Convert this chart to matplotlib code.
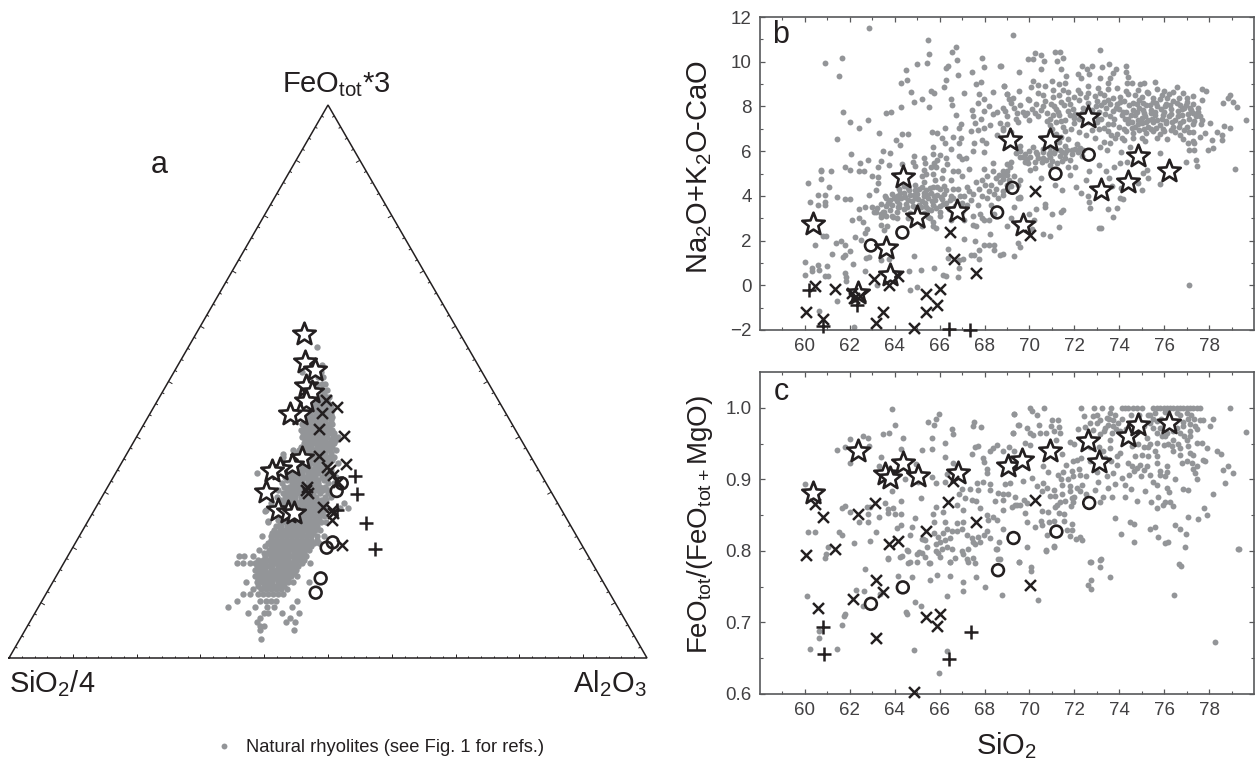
import numpy as np
import matplotlib
matplotlib.use("Agg")
import matplotlib.pyplot as plt
from matplotlib.collections import LineCollection
from matplotlib.path import Path

plt.rcParams['font.family'] = ['Liberation Sans', 'DejaVu Sans']
plt.rcParams['mathtext.fontset'] = 'custom'
plt.rcParams['mathtext.rm'] = 'Liberation Sans'
plt.rcParams['mathtext.default'] = 'rm'

INK = '#231f20'
GREY = '#939598'
SPINE = '#58595b'

# ---------- panel a (position along the base %, FeO apex %) ----------
a_star = [(46.19,58.59),(46.45,53.47),(47.97,52.08),(46.56,49.19),(47.44,48.16),(46.50,46.53),(45.62,44.12),(44.05,44.12),
          (45.88,36.11),(44.31,34.90),(42.48,34.12),(41.17,33.87),(40.23,29.96),(42.22,26.76),(43.79,26.34),(44.73,26.28)]
a_cross = [(49.69,46.65),(51.36,45.45),(49.01,44.24),(48.65,41.41),(52.51,40.14),(48.59,36.59),(52.77,35.02),(49.79,34.60),
           (50.32,34.0),(50.84,33.09),(51.62,31.89),(46.66,30.98),(46.56,30.38),(46.92,29.78),(49.27,27.37),(50.58,26.76),
           (50.84,26.16),(50.58,24.95),(52.15,20.43)]
a_plus = [(54.24,32.91),(54.60,29.66),(55.96,24.35),(57.37,19.65),(51.36,26.76)]
a_circle = [(52.15,31.58),(51.36,30.20),(50.74,20.91),(49.79,19.95),(48.85,14.40),(48.07,11.81)]
a_nat_rows = {
 56.3:[48.2], 53:[49.0,47.6], 51.8:[45.9,48.2,48.9], 50.8:[48.4,49.2], 49.6:[48.2,49.0,49.6], 48.4:[48.4,49.2,49.8],
 47.2:[48.1,48.9,49.7,50.1], 46:[48.0,48.8,49.5,50.2], 44.8:[47.7,48.5,49.2,50.0,50.6], 43.6:[46.8,47.6,48.4,49.2,50,50.6],
 42.4:[46.0,46.8,47.6,48.4,49.2,50,50.7], 41.2:[45.8,46.6,47.4,48.2,49,49.8,50.6], 40:[45.9,46.7,47.5,48.3,49.1,49.9,50.8,51.6],
 38.8:[46.2,47.0,47.8,48.6,49.4,50.2,51.0], 37.6:[44.5,45.5,46.3,47.1,47.9,48.7,49.5,50.3,51.2],
 36.4:[43.0,44.6,45.4,46.2,47,47.8,48.6,49.4,50.2,51], 35.2:[44.5,45.3,46.1,46.9,47.7,48.5,49.3,50.1,51.5],
 34:[43.5,44.3,45.1,45.9,46.7,47.5,48.3,49.1,50.5], 33.4:[38.8,43.6,44.4,45.2,46,46.8,47.6,48.4,49.4,50.2], 32.8:[43.2,44,44.8,45.6,46.4,47.2,48,49,49.8,51.3],
 31.6:[42.8,44.4,45.2,46,46.8,47.6,48.4,50,51.0], 30.4:[42.2,43.5,44.3,45.1,45.9,46.7,47.5,48.3,49.2,50],
 29.2:[42.0,43.3,44.1,44.9,45.7,46.5,47.3,48.1,49.5,50.4], 28:[41.0,42.9,43.7,44.5,45.3,46.1,46.9,47.7,48.5,49.3,52.5],
 27.2:[51.9,53.2], 26.8:[40.3,42.4,43.2,44,44.8,45.6,46.4,47.2,48,48.8,49.6], 25.6:[42.2,43,43.8,44.6,45.4,46.2,47,47.8,48.6,49.4],
 24.6:[40.6,42.5,43.3,44.1,44.9,45.7,46.5,47.3,48.1,48.9,49.7], 23.2:[41.6,42.4,43.2,44,44.8,45.6,46.4,47.2,48,48.8],
 22:[39.6,41.0,41.8,42.6,43.4,44.2,45,45.8,46.6,47.4,48.2,49.3], 20.8:[40.6,41.4,42.2,43,43.8,44.6,45.4,46.2,47,47.8,48.6],
 19.6:[39.2,40.7,41.5,42.3,43.1,43.9,44.7,45.5,46.3,47.1], 18.4:[36,36.8,38.3,40.2,41,41.8,42.6,43.4,44.2,45,45.8,46.6],
 17.2:[35.8,36.6,37.8,38.6,39.4,40.2,41,41.8,42.6,43.4,44.2,45,46,47.2], 16:[38.6,39.4,40.2,41,41.8,42.6,43.4,44.2,45],
 14.8:[38.6,39.4,40.2,41,41.8,42.6,43.4,44.2,45.2], 13.8:[37.2,47.1,38.9,39.7,40.5,41.3,42.1,42.9,43.7,44.5],
 12.4:[38.3,39.5,40.3,41.1,41.9,42.7,43.5], 11.6:[36.7,37.8,39,39.8,40.6,41.4,42.2,43], 10.3:[35.7,45.1,39.4,40.3,41.1,41.9],
 9.3:[34.3,38.5,40.4,41.5,44.3], 8.2:[37.4,39.9,40.6,42.74,45.5], 7.3:[39.4,44.0], 6.5:[38.8,44.8,43.4], 5.8:[39.3,39.9], 5.1:[39.3,44.7], 3.4:[39.5],
 36.9:[43.0], 26.5:[40.2], 24.8:[40.6],
 47.8:[48.5,49.3], 46.6:[48.4,49.2,49.9], 45.4:[48.1,48.9,49.7,50.4], 44.2:[47.2,48.1,48.9,49.7,50.4], 43:[46.4,47.2,48,48.8,49.6,50.4],
 41.8:[46.2,47,47.8,48.6,49.4,50.2], 40.6:[46.1,46.9,47.7,48.5,49.3,50.1,50.9], 39.4:[46.4,47.2,48,48.8,49.6,50.4,51.2], 38.2:[45.8,46.6,47.4,48.2,49,49.8,50.6],
 37:[44.8,45.6,46.4,47.2,48,48.8,49.6,50.4], 35.8:[44.9,45.7,46.5,47.3,48.1,48.9,49.7,50.7], 34.6:[44,44.7,45.5,46.3,47.1,47.9,48.7,49.5],
 32.2:[43.6,44.4,45.2,46,46.8,47.6,48.4,49.4], 31:[43.1,43.9,44.7,45.5,46.3,47.1,47.9,48.7,49.6], 29.8:[42.9,43.7,44.5,45.3,46.1,46.9,47.7,48.7,50],
 28.6:[42.5,43.3,44.1,44.9,45.7,46.5,47.3,48.1,48.9,49.7], 27.4:[43,43.8,44.6,45.4,46.2,47,47.8,48.6,49.4], 26.2:[42.6,43.4,44.2,45,45.8,46.6,47.4,48.2,49],
 25:[42.2,43,43.8,44.6,45.4,46.2,47,47.8,48.6], 23.8:[41.9,42.7,43.5,44.3,45.1,45.9,46.7,47.5,48.3], 22.6:[41.2,42,42.8,43.6,44.4,45.2,46,46.8,47.6],
 21.4:[41,41.8,42.6,43.4,44.2,45,45.8,46.6,47.4,48.2], 20.2:[40.2,41,41.8,42.6,43.4,44.2,45,45.8,46.6,47.4], 19:[39.9,40.6,41.4,42.2,43,43.8,44.6,45.4,46.2],
 17.8:[39,39.8,40.6,41.4,42.2,43,43.8,44.6,45.4,46.2], 16.6:[38.9,39.7,40.5,41.3,42.1,42.9,43.7,44.5,45.3], 15.4:[39,39.8,40.6,41.4,42.2,43,43.8,44.6],
 14.3:[39,39.8,40.6,41.4,42.2,43,43.8], 13:[39.1,39.9,40.7,41.5,42.3,43.1],
}

# ---------- panel b ----------
b_star = [(60.38,2.74),(64.39,4.84),(63.63,1.66),(63.8,0.46),(65.0,3.07),(66.76,3.33),(62.38,-0.34),(69.14,6.52),(69.72,2.68),
          (70.92,6.52),(72.6,7.54),(73.18,4.28),(74.4,4.62),(74.83,5.78),(76.2,5.11)]
b_circle = [(62.94,1.78),(64.34,2.36),(68.56,3.26),(69.24,4.36),(71.16,4.99),(72.64,5.84)]
b_cross = [(60.03,-1.2),(60.46,-0.01),(60.82,-1.5),(61.33,-0.16),(62.09,-0.34),(62.45,-0.49),(62.2,-0.56),(63.07,0.28),(63.16,-1.67),
           (63.49,-1.2),(63.73,0.03),(64.13,0.43),(64.87,-1.9),(65.38,-1.2),(65.38,-0.4),(65.87,-0.89),(66.0,-0.16),(66.44,2.37),
           (66.63,1.17),(67.61,0.56),(70.01,2.25),(70.23,4.21)]
b_plus = [(60.18,-0.19),(62.32,-0.9),(60.82,-1.82),(66.4,-1.97),(67.35,-2.0)]
b_nat = [
(62.85,11.52),(65.49,10.99),(66.71,10.67),(66.53,10.45),(65.54,10.35),(61.63,10.15),(60.89,9.93),(61.53,9.35),(66.76,10.09),(67.87,10.15),
(67.97,9.78),(68.7,9.83),(65.43,9.93),(65.0,9.88),(66.38,9.83),(66.28,9.74),(64.48,9.62),(67.44,9.56),(66.8,9.39),(66.28,9.18),(64.53,9.18),
(64.28,9.04),(67.85,9.1),(67.6,8.99),(68.86,8.93),(66.18,8.89),(64.74,8.66),(65.6,8.71),(65.74,8.62),(67.07,8.62),(68.36,8.63),(68.98,8.54),
(67.77,8.54),(65.23,8.33),(66.49,8.33),(67.96,8.33),(64.85,8.19),(67.7,8.16),(66.53,8.08),(64.28,7.98),(65.54,7.98),(68.21,8.04),(68.83,7.92),
(67.44,7.86),(67.96,7.8),(61.68,7.75),(63.61,7.69),(63.84,7.75),(68.57,7.74),(66.71,7.6),(67.47,7.55),(68.39,7.68),(62.79,7.4),(62.0,7.29),
(67.85,7.44),(66.96,7.23),(62.42,7.02),(66.22,7.02),(66.86,7.02),(67.57,7.25),(68.24,7.17),(67.72,6.95),(68.69,7.25),(63.31,6.82),(64.33,6.76),
(64.59,6.76),(65.64,6.86),(65.89,6.8),(67.38,6.92),(67.97,7.02),(61.42,6.55),(64.04,6.49),(66.12,6.61),(66.59,6.64),(66.96,6.61),(68.54,6.7),
(68.83,7.02),(66.22,6.38),(66.86,6.38),(64.23,6.28),(67.54,6.38),(67.87,6.5),(68.06,6.35),(65.7,6.17),(66.49,6.1),(63.46,6.01),(63.81,5.91),
(67.47,6.01),(67.97,5.97),(62.05,5.86),(64.85,5.8),(65.7,5.86),(66.01,5.83),(66.87,5.79),(67.16,5.71),(62.79,5.59),(62.45,5.49),(63.37,5.55),
(65.3,5.68),(66.28,5.68),(66.99,5.65),(64.33,5.43),(63.74,5.38),(64.8,5.5),(65.33,5.46),(65.74,5.46),(68.39,5.49),(68.98,5.43),(61.78,5.27),
(63.26,5.28),(64.9,5.34),(66.34,5.43),(65.83,5.27),(67.97,5.22),(60.7,5.16),(61.16,5.12),(62.0,5.16),(62.42,5.09),(62.63,5.09),(65.3,5.16),
(66.13,5.16),(66.61,5.09),(66.83,5.13),(68.39,5.12),(68.83,5.09),
(69.28,11.2),(73.15,10.53),(70.25,10.41),(71.14,10.45),(71.36,10.45),(70.5,10.3),(69.95,10.14),(70.17,10.11),(70.66,10.03),(71.51,10.18),
(71.24,10.03),(73.56,9.88),(68.73,9.83),(72.36,9.81),(72.77,9.81),(74.29,9.81),(70.5,9.68),(71.39,9.68),(72.58,9.68),(73.25,9.75),(73.84,9.68),
(69.54,9.56),(72.18,9.44),(72.63,9.44),(73.74,9.48),(74.3,9.56),(71.62,9.38),(73.14,9.29),(73.59,9.29),(74.41,9.33),(72.3,9.26),(70.17,9.15),
(70.99,9.14),(71.59,9.04),(73.52,9.04),(74.33,9.04),(74.56,9.04),(74.93,9.0),(75.1,9.04),(75.57,9.08),(68.87,8.93),(70.4,8.96),(70.69,8.93),
(71.33,8.99),(72.62,8.93),(70.07,8.86),(76.56,8.86),(77.67,8.77),(77.85,8.71),(69.55,8.71),(71.07,8.74),(71.51,8.74),(72.18,8.74),(73.04,8.84),
(73.89,8.81),(74.85,8.74),(75.22,8.66),(75.67,8.78),(75.97,8.69),(69.02,8.54),(70.4,8.59),(71.73,8.66),(72.25,8.59),(73.14,8.59),(73.52,8.78),
(74.41,8.54),(76.41,8.63),(76.86,8.59),(77.3,8.47),(78.94,8.51),(69.28,8.39),(69.95,8.33),(71.07,8.44),(71.99,8.44),(73.74,8.36),(74.04,8.44),
(75,8.44),(75.52,8.36),(76.12,8.39),(76.64,8.36),(77.0,8.36),(78.83,8.39),(77.67,8.29),
(69.2,8.15),(69.6,8.05),(70.0,8.3),(70.3,8.1),(70.7,8.25),(71.1,8.0),(71.4,8.2),(71.8,8.1),(72.2,8.3),(72.6,8.15),(73.0,8.25),(73.2,8.05),(73.5,8.3),
(73.9,8.1),(74.2,8.25),(74.6,8.15),(74.9,8.3),(75.2,8.05),(75.5,8.2),(75.8,8.35),(76.1,8.1),(76.4,8.25),(76.7,8.05),(77.0,8.2),(77.3,8.1),
(68.9,7.8),(69.3,7.95),(69.7,7.75),(70.1,7.9),(70.5,7.85),(70.8,7.7),(71.2,7.9),(71.7,7.8),(72.4,7.95),(72.8,7.85),(73.1,7.75),(73.4,7.95),(73.7,7.8),
(74.0,7.9),(74.3,7.75),(74.6,7.85),(74.9,7.95),(75.1,7.7),(75.4,7.85),(75.7,8.0),(76.0,7.75),(76.3,7.9),(76.6,7.8),(76.9,7.95),(77.2,7.85),(77.5,7.75),
(69.0,7.55),(69.4,7.45),(69.8,7.6),(70.0,7.4),(70.4,7.55),(70.9,7.45),(71.3,7.6),(71.6,7.4),(72.0,7.5),(72.9,7.6),(73.2,7.45),(73.6,7.55),(74.1,7.6),
(74.4,7.45),(74.7,7.6),(75.0,7.5),(75.3,7.4),(75.6,7.6),(75.9,7.45),(76.2,7.55),(76.5,7.4),(76.8,7.6),(77.1,7.45),(77.4,7.55),(77.7,7.4),
(69.0,7.2),(69.5,7.3),(70.9,7.15),(71.2,7.3),(71.5,7.1),(72.0,7.25),(73.5,7.2),(74.0,7.1),(74.4,7.25),(74.7,7.1),(75.0,7.25),(75.3,7.1),(75.5,7.3),
(75.8,7.15),(76.1,7.25),(76.4,7.1),(76.7,7.25),(77.0,7.1),(77.3,7.2),(68.8,6.95),(69.2,6.85),(70.9,6.9),(71.2,6.75),(71.6,6.9),(72.2,6.85),(72.8,6.95),
(73.5,6.9),(73.9,6.75),(74.3,6.9),(74.6,6.8),(74.9,6.95),(75.2,6.8),(75.5,6.9),(75.8,6.75),(76.0,6.9),(76.5,6.85),(76.9,6.95),(77.3,6.85),
(71.0,6.5),(71.3,6.4),(71.7,6.55),(72.1,6.3),(72.9,6.6),(73.3,6.4),(73.8,6.6),(74.2,6.5),(74.6,6.6),(75.0,6.6),
(69.4,5.91),(69.73,5.76),(69.2,5.53),(70.25,5.53),(70.62,5.68),(70.92,5.76),(71.36,6.06),(71.88,6.06),(72.25,6.13),(73.14,6.2),(73.44,6.06),(73.59,6.35),
(74.07,5.98),(74.48,6.2),(75.15,6.46),(75.67,6.61),(75.82,5.91),(76.12,6.55),(76.83,6.55),(77.08,6.35),(77.35,6.35),(77.09,6.03),(77.35,6.03),(77.93,6.03),
(78.19,6.13),(78.15,6.5),(78.57,6.7),(78.57,6.5),(78.34,6.87),(78.94,7.02),(78.67,7.13),(78.05,7.25),(77.82,6.8),(77.6,6.65),(77.3,6.46),(79.63,7.4),
(79.26,7.98),(79.08,8.19),(78.61,8.14),(76.98,5.53),(77.42,5.61),(77.45,5.34),(79.16,5.19),(75.22,5.16),(75.05,5.01),(75.27,4.79),(74.85,4.57),(74.99,4.28),
(75.82,4.54),(74.04,3.9),(74.15,3.85),(72.63,3.72),(69.58,4.71),(69.14,5.31),(68.84,4.94),(68.99,5.09),(70.5,4.79),(71.81,4.94),(71.14,4.49),(71.45,4.27),
(72.08,4.39),(72.3,4.12),(72.52,4.71),(72.65,5.09),(72.6,4.01),(73.09,5.38),(73.41,5.13),(73.78,5.28),(74.04,5.49),(74.33,5.53),(73.56,4.79),(73.66,4.42),
(74.07,4.34),(74.78,4.64),(69.51,3.9),(70.69,3.63),(68.84,4.04),(69.58,3.97),(69.95,5.46),(70.03,5.16),(70.25,5.24),(70.55,5.53),(71.59,5.68),(72.03,5.31),
(71.73,5.31),(71.21,5.46),(70.92,5.38),(70.92,5.98),(69.58,5.76),(69.8,5.53),(68.99,4.94),(69.8,5.85),(70.03,5.76),(70.32,5.85),(70.62,5.98),(71.14,6.06),
(71.43,5.98),(71.66,6.06),(72.03,6.1),(72.4,6.06),(73.2,2.58),(73.1,2.55),(73.7,3.05),(73.5,3.4),(72.7,3.45),(73.9,3.45),(71.5,3.35),
(60.15,4.59),(60.7,4.74),(61.07,4.39),(60.59,4.03),(60.89,4.04),(60.22,3.74),(60.89,3.74),(60.59,3.57),(60.89,3.57),(61.42,3.97),(61.78,3.85),(62.0,3.85),
(62.85,4.03),(63.16,4.27),(63.26,4.56),(62.97,4.91),(63.26,4.86),(60.7,5.13),(62.39,3.4),(62.69,3.48),(63.0,3.52),(63.55,4.0),(62.09,2.9),(62.42,3.0),
(62.57,2.82),(62.78,2.52),(62.69,2.33),(62.23,2.15),(62.52,2.03),(60.81,2.22),(60.96,2.22),(60.47,1.78),(61.38,1.88),(61.59,2.0),(61.78,1.78),(61.22,1.4),
(62.0,1.52),(61.78,1.36),(61.68,1.26),(62.72,1.21),(62.86,1.26),(63.37,1.14),(63.74,1.17),(64.85,1.32),(60.0,1.05),(60.59,0.91),(60.99,0.88),(60.3,0.76),
(60.3,0.65),(60.62,0.69),(62.15,0.93),(62.69,0.62),(65.17,0.69),(65.74,0.78),(64.65,0.62),(66.16,0.45),(66.27,0.42),(66.8,0.35),(60.0,0.47),(60.89,0.42),
(61.01,0.42),(61.78,0.54),(61.81,0.36),(61.83,0.17),(63.22,0.0),(65.0,-0.06),(64.68,-0.23),(61.41,-0.7),(60.62,-1.14),(62.2,-1.87),(66.38,1.61),(66.38,1.21),
(66.87,1.11),(66.86,0.76),(67.05,1.17),(67.57,2.0),(67.08,2.09),(67.39,1.36),(67.53,1.36),(67.76,1.58),(67.99,1.78),(67.76,1.17),(68.42,1.78),(68.42,1.58),
(68.69,1.36),(68.24,2.3),(69.01,2.63),(67.97,2.92),(67.6,2.67),(65.72,2.63),(65.86,2.55),(65.72,2.85),(65.57,3.0),(65.2,2.63),(63.64,2.63),(63.53,2.48),
(63.37,2.7),(63.49,3.3),(63.41,3.07),(63.16,3.3),(63.07,3.3),(63.93,3.07),(64.08,3.0),(77.1,0.0),
(64.6,4.35),(64.9,4.25),(65.2,4.4),(65.4,4.25),(65.7,4.4),(66.0,4.3),(66.2,4.45),(64.2,4.3),(64.4,4.45),(63.9,4.1),(64.1,4.0),(64.4,4.15),(64.7,4.05),(65.0,4.1),
(65.3,4.0),(65.6,4.15),(65.9,4.05),(66.2,4.1),(66.5,4.0),(63.6,3.9),(63.8,3.8),(64.1,3.75),(64.3,3.9),(64.6,3.8),(64.9,3.9),(65.2,3.75),(65.5,3.9),(65.8,3.8),(66.1,3.85),
(63.4,3.65),(63.6,3.55),(63.9,3.6),(64.2,3.5),(64.5,3.65),(64.8,3.55),(65.1,3.6),(65.4,3.5),(65.7,3.6),(66.0,3.55),(66.3,3.7),(63.2,3.45),(63.5,3.3),(63.8,3.35),(64.1,3.3),
(64.4,3.4),(64.7,3.25),(65.0,3.4),(65.3,3.25),(65.6,3.35),(66.0,3.3),(66.4,3.4),(63.4,3.2),(63.9,3.1),(64.6,3.0),(65.5,3.05),(66.0,3.1),(66.5,2.9),(67.0,3.3),(67.5,3.1),
(67.3,4.2),(67.6,4.6),(67.9,4.7),(68.1,4.9),(68.3,4.5),(68.5,4.8),(68.7,4.6),(68.9,5.0),(69.1,4.7),(69.3,4.9),(69.5,4.5),(67.1,4.0),(66.8,4.3),(66.6,3.9),(67.0,3.7),(67.4,3.8),
(67.7,3.6),(68.1,3.9),(68.4,4.1),(68.8,4.2),(69.0,4.3),(69.6,3.9),(69.3,3.5),(70.0,3.2),(70.3,3.4),(70.7,3.5),(71.0,3.2),(71.4,3.3),(70.6,2.3),(70.9,2.2),(71.3,2.6),(70.1,2.5),
(69.6,1.7),(69.5,1.9),(69.3,1.3),(68.8,1.4),(68.2,1.8),(66.6,3.2),(67.1,2.9),(67.5,2.7),(67.9,3.0),(68.2,2.9),(68.4,3.2),(69.2,3.0),(69.5,2.7),(70.2,2.9),(65.9,5.6),(65.6,5.3),
(65.4,5.0),(65.2,4.9),(65.7,5.0),(66.1,4.8),(66.5,4.7),(67.0,4.9),(67.3,5.2),
(69.1,8.35),(69.45,7.7),(69.9,7.7),(70.25,7.7),(70.6,8.0),(70.95,8.1),(71.25,7.75),(71.55,8.05),(71.95,7.9),(72.05,7.65),(72.35,7.7),(72.5,8.4),(72.75,7.6),(72.95,8.0),(73.05,7.45),
(73.3,8.2),(73.35,7.65),(73.6,8.1),(73.75,7.45),(73.85,7.95),(74.05,8.2),(74.15,7.75),(74.25,7.45),(74.45,8.05),(74.5,7.6),(74.55,7.3),(74.8,8.1),(74.8,7.75),(74.85,7.4),(75.05,8.15),
(75.05,7.85),(75.15,7.55),(75.2,7.3),(75.35,8.05),(75.4,7.7),(75.45,7.45),(75.65,8.15),(75.6,7.75),(75.7,7.4),(75.85,7.9),(75.95,7.6),(76.05,8.0),(76.1,7.35),(76.25,8.05),(76.3,7.65),
(76.35,7.3),(76.55,8.15),(76.6,7.55),(76.65,7.1),(76.8,7.9),(76.85,7.35),(76.95,8.05),(77.05,7.65),(77.15,7.95),(77.3,7.7),(77.35,7.35),(77.5,7.95),(77.6,7.55),(77.65,7.2),(76.2,8.55),
(75.9,8.5),(75.3,8.6),(74.7,8.5),(74.3,8.7),(73.3,8.5),(72.9,8.45),(72.6,8.6),(71.7,8.35),(71.3,8.5),(70.6,8.5),(70.8,7.35),(71.05,7.6),(71.4,7.35),(71.8,7.6),(72.2,7.45),(72.6,7.3),
(73.0,7.3),(73.3,7.05),(73.7,7.2),(74.2,7.0),(74.55,7.05),(74.85,7.2),(75.1,7.0),(75.4,7.0),(75.65,7.05),(75.95,7.0),(76.3,6.95),(76.7,6.7),(77.1,6.85),(71.0,7.0),(71.4,6.65),(71.85,7.0),
(72.5,6.7),(73.1,7.0),(73.65,6.7),(74.1,6.6),
(69.6,6.0),(70.0,6.0),(70.3,5.95),(70.6,6.1),(70.85,5.85),(71.1,5.9),(71.35,5.8),(71.6,5.9),(71.9,5.85),(72.15,5.95),(72.35,5.8),(69.9,5.65),(70.4,5.7),(70.75,5.6),(71.0,5.55),(71.45,5.55),
(71.8,5.6),(69.6,6.25),(70.15,6.2),(70.9,6.2),(71.6,6.25),
(63.7,3.7),(63.95,3.9),(64.2,3.65),(64.25,4.15),(64.45,3.95),(64.55,3.5),(64.65,4.25),(64.75,3.75),(64.85,4.05),(64.95,3.45),(65.05,3.85),(65.1,4.3),(65.15,3.5),(65.3,4.15),(65.35,3.7),
(65.45,4.05),(65.5,3.4),(65.55,4.35),(65.65,3.75),(65.75,4.0),(65.85,3.45),(65.9,4.4),(66.05,3.95),(66.15,3.65),(66.3,4.25),(66.45,3.8),(66.6,4.3),(66.7,3.55),(66.9,4.0),(67.2,3.6),
(67.2,4.4),(67.5,4.1),(67.75,4.3),(67.9,4.0),(68.0,4.5),(68.2,4.2),(68.5,4.3),(68.65,4.95),(68.8,4.75),(69.0,4.5),(69.2,4.45),(68.6,3.9),(68.3,3.6),(67.8,3.2),(64.15,3.5),(63.6,3.1),
(64.9,4.5),(65.3,4.6),(65.8,4.7),
]

# ---------- panel c ----------
c_star = [(60.36,0.881),(62.36,0.940),(63.57,0.908),(63.8,0.902),(64.38,0.923),(65.05,0.905),(66.8,0.909),(69.06,0.919),(69.68,0.927),
          (70.92,0.940),(72.6,0.954),(73.09,0.924),(74.37,0.960),(74.83,0.976),(76.2,0.979)]
c_circle = [(62.94,0.726),(64.36,0.749),(68.6,0.773),(69.29,0.818),(71.2,0.827),(72.66,0.867)]
c_cross = [(60.03,0.794),(60.44,0.865),(60.58,0.72),(60.82,0.847),(61.35,0.803),(62.14,0.733),(62.37,0.852),(63.1,0.867),(63.16,0.76),
           (63.16,0.678),(63.49,0.742),(63.73,0.81),(64.16,0.814),(64.87,0.603),(65.38,0.708),(65.41,0.828),(65.9,0.695),(66.0,0.712),
           (66.39,0.868),(66.59,0.898),(67.64,0.841),(70.01,0.753),(70.23,0.871)]
c_plus = [(60.8,0.693),(60.85,0.656),(66.4,0.649),(67.4,0.686)]
c_nat = [
(63.86,0.998),(65.97,0.991),(65.86,0.985),(65.49,0.98),(65.74,0.976),(64.02,0.976),(67.53,0.98),(67.47,0.975),(67.85,0.973),(66.56,0.97),(66.61,0.964),
(63.49,0.963),(63.76,0.965),(69.31,0.992),(69.5,0.976),(69.25,0.965),(64.35,0.958),(65.64,0.958),(62.79,0.958),(62.57,0.961),(62.03,0.956),(62.85,0.947),
(66.24,0.951),(65.23,0.941),(65.64,0.943),(64.3,0.943),(61.44,0.941),(61.78,0.945),(67.72,0.947),(67.57,0.945),(67.42,0.936),(68.39,0.944),(68.57,0.948),
(68.24,0.94),(68.83,0.939),(69.1,0.945),(69.31,0.94),(63.37,0.931),(66.24,0.931),(67.91,0.93),(67.97,0.924),(62.03,0.923),(66.61,0.923),(68.09,0.915),
(68.12,0.909),(64.94,0.921),(63.28,0.918),(65.65,0.903),(65.86,0.895),(66.24,0.896),(64.45,0.9),(65.05,0.896),(66.34,0.907),(66.76,0.918),(67.65,0.895),
(67.91,0.896),(68.24,0.894),(68.91,0.893),(69.13,0.895),(60.0,0.893),(66.98,0.886),(67.35,0.887),(67.72,0.885),(68.24,0.885),(63.86,0.883),(66.87,0.879),
(68.61,0.881),(65.17,0.874),(68.83,0.879),(69.06,0.879),(67.42,0.871),(67.13,0.874),(67.64,0.87),(68.46,0.87),(68.83,0.871),(64.26,0.87),(63.56,0.867),
(61.78,0.863),(61.63,0.86),(62.75,0.862),(62.9,0.861),(63.93,0.86),(63.71,0.859),(63.71,0.853),(64.01,0.851),(64.26,0.851),(63.31,0.848),(62.0,0.854),
(62.42,0.841),(62.82,0.841),(62.79,0.851),(64.9,0.846),(65.72,0.851),(66.13,0.854),(65.86,0.861),(66.76,0.864),(67.02,0.857),(67.79,0.86),(68.09,0.85),
(68.39,0.848),(68.83,0.857),(69.21,0.862),(69.43,0.864),(65.74,0.841),(66.24,0.84),(66.76,0.839),(67.05,0.841),(68.17,0.843),(68.54,0.843),(68.83,0.83),
(68.09,0.828),(64.78,0.833),(64.08,0.832),(64.3,0.836),(63.16,0.826),(61.51,0.826),(61.66,0.822),(60.15,0.826),(60.47,0.826),(62.2,0.811),(62.9,0.814),
(64.68,0.822),(65.2,0.817),(65.34,0.815),(65.74,0.825),(65.94,0.82),(66.16,0.825),(66.31,0.83),(66.53,0.828),(66.76,0.828),(66.98,0.83),(67.2,0.822),
(67.42,0.818),(67.72,0.82),(67.97,0.822),(68.24,0.818),(68.66,0.813),(65.86,0.809),(66.01,0.813),(66.24,0.815),(66.46,0.818),(66.09,0.803),(66.31,0.806),
(65.94,0.797),(66.53,0.802),(66.98,0.8),(67.27,0.802),(67.57,0.809),(67.79,0.813),(67.5,0.813),(65.42,0.806),(65.27,0.816),(64.56,0.801),(64.97,0.796),
(65.2,0.797),(65.34,0.792),(66.01,0.792),(66.68,0.79),(67.2,0.789),(67.5,0.79),(64.23,0.792),(63.71,0.789),(60.93,0.795),(60.89,0.79),(61.04,0.805),
(68.54,0.802),(68.61,0.788),(64.6,0.783),(64.97,0.785),(65.54,0.783),(66.46,0.785),(67.57,0.783),
(70.03,1.0),(70.67,1.0),(72.28,1.0),(72.88,1.0),(73.22,1.0),(73.63,1.0),(74.11,1.0),(74.26,1.0),(74.41,1.0),(74.63,1.0),(74.81,1.0),(75.0,1.0),(75.52,1.0),
(75.67,1.0),(75.82,1.0),(75.97,1.0),(76.11,1.0),(76.26,1.0),(76.41,1.0),(76.56,1.0),(76.71,1.0),(76.86,1.0),(77.0,1.0),(77.15,1.0),(77.3,1.0),(77.45,1.0),
(77.6,1.0),(78.94,1.0),(70.1,0.996),(69.31,0.991),(70.35,0.99),(72.43,0.989),(72.85,0.988),(73.59,0.993),(73.81,0.99),(75.6,0.993),(75.37,0.99),(76.04,0.994),
(76.56,0.993),(77,0.993),(78.19,0.985),(71.02,0.983),(71.26,0.983),(73.15,0.983),(73.44,0.986),(73.74,0.983),(77.6,0.983),(77.75,0.983),(77.08,0.985),(69.55,0.976),
(70.44,0.976),(70.95,0.975),(71.32,0.973),(72.7,0.979),(73.03,0.979),(73.5,0.976),(73.96,0.979),(75.37,0.979),(75.67,0.981),(77.15,0.977),(77.38,0.975),(78.05,0.975),
(69.88,0.972),(71.1,0.968),(72.18,0.97),(72.48,0.973),(72.85,0.969),(73.37,0.972),(73.74,0.974),(75.52,0.972),(75.82,0.972),(76.26,0.974),(76.56,0.972),(76.86,0.974),
(77.15,0.968),(79.63,0.966),(69.28,0.965),(70.03,0.965),(70.17,0.962),(70.47,0.965),(70.72,0.965),(71.36,0.965),(73.14,0.963),(73.66,0.965),(74.03,0.967),(75.67,0.965),
(76.11,0.965),(76.41,0.967),(76.71,0.965),(71.17,0.955),(77.15,0.96),(77,0.955),(76.41,0.955),(76.04,0.96),(75.67,0.951),(75.22,0.958),(71.81,0.952),(73.59,0.955),
(69.8,0.951),(70.03,0.948),(77.45,0.951),(77.67,0.951),(75.97,0.948),(76.34,0.946),(76.71,0.944),(77.08,0.946),(73.59,0.944),(73.29,0.939),(74.55,0.946),(75.3,0.945),
(77.9,0.944),(71.44,0.935),(72.1,0.927),(71.96,0.926),(73.89,0.932),(74.04,0.937),(74.7,0.932),(75.0,0.934),(75.3,0.932),(75.6,0.939),(75.67,0.932),(76.41,0.939),
(76.71,0.934),(77.15,0.937),(77.27,0.934),(78.34,0.939),(78.52,0.935),(77.75,0.927),(76.78,0.923),(77,0.925),(77.23,0.923),(77.45,0.918),(77.3,0.915),(77.38,0.909),
(77.82,0.925),(71.63,0.92),(70.62,0.918),(73.89,0.92),(74.41,0.923),(74.55,0.918),(74.93,0.92),(75.22,0.918),(74.78,0.916),(75.67,0.923),(76.11,0.919),(78.86,0.919),
(78.64,0.913),(79.08,0.909),(70.81,0.91),(71.29,0.906),(71.96,0.904),(72.25,0.906),(73.74,0.909),(74.66,0.912),(75.08,0.913),(75.82,0.911),(76.11,0.91),(74.96,0.904),
(73.44,0.904),(71.39,0.9),(71.73,0.9),(70.13,0.902),(69.7,0.897),(70.62,0.895),(74.11,0.902),(74.44,0.906),(75.37,0.906),(75.82,0.906),(76.04,0.904),(76.49,0.9),
(77.45,0.9),(73.07,0.896),(75.52,0.896),(75.67,0.892),(70.32,0.89),(70.77,0.888),(71.44,0.892),(72.33,0.892),(71.81,0.891),(72.1,0.888),(73.81,0.893),(74.26,0.892),
(78.71,0.895),(73.51,0.888),(74.51,0.887),(76.11,0.888),(76.86,0.887),(77.04,0.885),(70.54,0.883),(71.81,0.884),(72.25,0.883),(75.15,0.883),(76.23,0.882),(78.16,0.88),
(70.92,0.877),(71.14,0.877),(71.44,0.879),(71.88,0.874),(73.66,0.876),(73.26,0.876),(74.26,0.875),(75.74,0.876),(69.36,0.876),(69.76,0.871),(69.58,0.864),(69.88,0.867),
(69.36,0.864),(71.36,0.869),(71.93,0.869),(73.15,0.868),(74.81,0.87),(75.4,0.868),(76.04,0.868),(76.26,0.868),(71.21,0.864),(71.14,0.862),(71.85,0.863),(76.41,0.863),
(75.94,0.864),(75.67,0.86),(77.78,0.86),(69.8,0.853),(70.54,0.856),(70.84,0.854),(71.33,0.853),(71.54,0.851),(77.08,0.848),(77.9,0.85),(77.52,0.845),(73.81,0.846),
(74.48,0.84),(74.66,0.838),(69.88,0.84),(70.5,0.842),(70.89,0.84),(71.11,0.842),(71.54,0.842),(71.91,0.837),(70.54,0.836),(70.25,0.833),(71.66,0.829),(71.91,0.829),
(75.37,0.831),(75.57,0.833),(76.49,0.836),(76.71,0.831),(76.98,0.824),(74.07,0.824),(70.77,0.822),(71.81,0.821),(72.25,0.82),(72.07,0.816),(72.33,0.815),(75.74,0.819),
(74.66,0.812),(76.16,0.812),(76.04,0.811),(69.91,0.805),(70.72,0.801),(71.1,0.805),(76.93,0.805),(79.28,0.802),(69.54,0.785),(72.7,0.784),(73.15,0.787),(76.64,0.782),(76.75,0.779),
(72.72,0.785),(73.18,0.788),(73.13,0.778),(73.6,0.764),(72.76,0.759),(72.6,0.753),(72.76,0.747),(76.45,0.739),(79.35,0.802),(78.28,0.673),(70.38,0.732),(70.05,0.778),(70.07,0.772),
(68.78,0.739),(68.0,0.75),(67.63,0.764),(67.03,0.757),(67.03,0.744),(66.48,0.765),(66.31,0.737),(65.9,0.767),(65.57,0.76),(64.79,0.763),(64.14,0.765),(64.91,0.729),(65.16,0.723),
(64.5,0.715),(64.55,0.712),(63.36,0.74),(62.67,0.775),(62.62,0.744),(62.59,0.723),(60.1,0.737),(61.79,0.712),(61.76,0.709),(61.66,0.697),(60.63,0.688),(60.63,0.678),(60.24,0.663),
(61.41,0.663),(65.95,0.63),(64.87,0.661),(66.31,0.66),(62.29,0.746),(63.7,0.79),(64.33,0.793),(64.67,0.784),(65.08,0.798),(65.57,0.783),(64.59,0.8),(65.85,0.8),(66.48,0.784),
(67.05,0.795),(67.25,0.784),(68.51,0.802),(68.67,0.788),(69.53,0.784),(70.73,0.8),(71.1,0.807),
(73.0,0.99),(73.3,0.968),(73.55,0.985),(73.85,0.97),(74.1,0.985),(74.3,0.97),(74.5,0.99),(74.7,0.975),(74.9,0.99),(75.1,0.975),(75.3,0.99),(75.5,0.985),(75.85,0.985),(76.0,0.975),
(76.2,0.988),(76.4,0.98),(76.7,0.99),(76.85,0.98),(77.2,0.99),(77.35,0.985),(77.45,0.97),(76.9,0.96),(76.6,0.95),(76.15,0.95),(75.9,0.96),(75.35,0.95),(75.1,0.945),(74.85,0.95),
(72.4,0.955),(72.0,0.95),(72.7,0.945),(73.1,0.945),(73.35,0.93),(73.65,0.925),(72.3,0.93),(72.7,0.925),(72.9,0.915),(73.0,0.91),(72.5,0.905),(72.2,0.915),(71.9,0.912),(71.5,0.91),
(71.1,0.885),(71.6,0.87),(72.0,0.875),(72.5,0.88),(72.9,0.885),
]

x_ticks = [60, 62, 64, 66, 68, 70, 72, 74, 76, 78]
b_yticks = [-2, 0, 2, 4, 6, 8, 10, 12]
c_yticks = [0.6, 0.7, 0.8, 0.9, 1.0]

W, H = 1256, 765
fig = plt.figure(figsize=(W / 100, H / 100), dpi=100, facecolor='white')
STAR = Path.unit_regular_star(5, innerCircle=0.43)


def px_axes(x0, y0, x1, y1):
    return fig.add_axes([x0 / W, 1 - y1 / H, (x1 - x0) / W, (y1 - y0) / H])


def xy(points):
    a = np.array(points, dtype=float)
    return a[:, 0], a[:, 1]


def markers(ax, star, cross, plus, circle):
    kw = dict(clip_on=False)
    ax.scatter(*xy(star), marker=STAR, s=290, facecolor='white', edgecolor=INK, linewidths=1.9, zorder=3, **kw)
    ax.scatter(*xy(cross), marker='x', s=62, color=INK, linewidths=1.8, zorder=4, **kw)
    ax.scatter(*xy(plus), marker='+', s=105, color=INK, linewidths=1.8, zorder=4, **kw)
    ax.scatter(*xy(circle), marker='o', s=72, facecolor='none', edgecolor=INK, linewidths=1.9, zorder=5, **kw)


# ----- a: triangle
ax = px_axes(9, 105, 647, 658)
ax.set_xlim(0, 100)
ax.set_ylim(0, 100)
ax.axis('off')
ax.plot([0, 100, 50, 0], [0, 0, 100, 0], color=INK, lw=1.1, clip_on=False, zorder=1, solid_joinstyle='miter')
segs = []
ux, uy = 6.38, 5.53
for i in range(2, 100, 2):
    L = 4.5 if i % 10 == 0 else 2.5
    segs.append([(i, 0), (i, L / uy)])
    px, py = i / 2, i
    segs.append([(px, py), (px + L * 0.866 / ux, py - L * 0.5 / uy)])
    px = 100 - i / 2
    segs.append([(px, py), (px - L * 0.866 / ux, py - L * 0.5 / uy)])
ax.add_collection(LineCollection(segs, colors=INK, linewidths=0.7, zorder=1))
nat_x = [v for fe, row in a_nat_rows.items() for v in row]
nat_y = [fe for fe, row in a_nat_rows.items() for _ in row]
ax.scatter(nat_x, nat_y, s=21, color=GREY, linewidths=0, zorder=2, clip_on=False)
markers(ax, a_star, a_cross, a_plus, a_circle)

# ----- b, c: scatter panels
axb = px_axes(760, 17, 1254, 330)
axc = px_axes(760, 372, 1254, 694)
for axis, nat, star, cross, plus, circle in ((axb, b_nat, b_star, b_cross, b_plus, b_circle),
                                             (axc, c_nat, c_star, c_cross, c_plus, c_circle)):
    axis.scatter(*xy(nat), s=18, color=GREY, linewidths=0, zorder=2, clip_on=False)
    markers(axis, star, cross, plus, circle)
    axis.set_xlim(58, 80)
    axis.set_xticks(x_ticks)
    axis.set_xticks(np.arange(59, 80, 1), minor=True)
    axis.tick_params(which='major', direction='in', length=3.5, width=0.9, top=True, right=True, color=SPINE,
                     labelsize=13.5, labelcolor='#414042', pad=6)
    axis.tick_params(which='minor', direction='in', length=2, width=0.8, top=True, right=True, color=SPINE)
    for s in axis.spines.values():
        s.set_color(SPINE)
        s.set_linewidth(1.2)

axb.set_ylim(-2, 12)
axb.set_yticks(b_yticks)
axb.set_yticks(np.arange(-1, 12, 1), minor=True)
axc.set_ylim(0.6, 1.05)
axc.set_yticks(c_yticks)
axc.set_yticklabels([f'{v:.1f}' for v in c_yticks])
axc.set_yticks(np.arange(0.65, 1.05, 0.1), minor=True)
axb.set_xticklabels([str(v) for v in x_ticks])
axc.set_xticklabels([str(v) for v in x_ticks])


def label(x, y, s, size=21, **kw):
    fig.text(x / W, 1 - y / H, s, fontsize=size, color=INK, ha=kw.pop('ha', 'center'), va=kw.pop('va', 'center'), **kw)


label(336, 85, r'FeO$_{\mathrm{tot}}$*3')
label(159, 165, 'a', size=22)
label(9, 684, r'SiO$_{\mathrm{2}}$/4', ha='left')
label(647, 684, r'Al$_{\mathrm{2}}$O$_{\mathrm{3}}$', ha='right')
label(781, 35, 'b', size=22)
label(781, 392, 'c', size=22)
label(700, 167, r'Na$_{\mathrm{2}}$O+K$_{\mathrm{2}}$O-CaO', rotation=90)
label(700, 525, r'FeO$_{\mathrm{tot}}$/(FeO$_{\mathrm{tot+}}$MgO)', size=20, rotation=90)
label(1007, 746, r'SiO$_{\mathrm{2}}$')
label(246, 747, 'Natural rhyolites (see Fig. 1 for refs.)', size=13.2, ha='left')
legend_ax = fig.add_axes([0, 0, 1, 1], facecolor='none')
legend_ax.set_xlim(0, W)
legend_ax.set_ylim(H, 0)
legend_ax.axis('off')
legend_ax.scatter([224], [746], s=18, color=GREY, linewidths=0)

fig.savefig('out.png', dpi=100, facecolor='white')
